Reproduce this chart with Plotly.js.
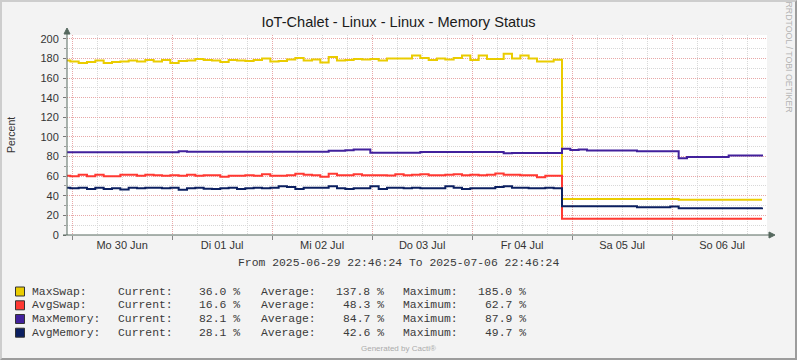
<!DOCTYPE html>
<html><head><meta charset="utf-8">
<script src="https://cdn.plot.ly/plotly-3.0.1.min.js"></script>
<style>
html,body{margin:0;padding:0;background:#F3F3F3}
#wrap{position:relative;width:797px;height:360px}
#chart{width:797px;height:360px}
#frame{position:absolute;left:0;top:0;width:797px;height:360px;box-sizing:border-box;border-top:2px solid #CDCDCD;border-left:2px solid #CDCDCD;border-right:2px solid #9C9C9C;border-bottom:2px solid #9C9C9C;pointer-events:none}
</style>
</head><body><div id="wrap"><div id="chart"></div><div id="frame"></div></div>
<script>
// ---- data ----
const titleText = 'IoT-Chalet - Linux - Linux - Memory Status';
const yTitle = 'Percent';
const rangeStart = '2025-06-29 22:46:24';
const rangeEnd = '2025-07-06 22:46:24';
const sampleStart = '2025-06-29 21:34:24'; // first 2-hour sample
const sampleStepHours = 2;
const dayTickDates = ['2025-06-30 12:00','2025-07-01 12:00','2025-07-02 12:00','2025-07-03 12:00','2025-07-04 12:00','2025-07-05 12:00','2025-07-06 12:00'];
const dayTickLabels = ['Mo 30 Jun','Di 01 Jul','Mi 02 Jul','Do 03 Jul','Fr 04 Jul','Sa 05 Jul','So 06 Jul'];
const seriesNames = ['MaxSwap:','AvgSwap:','MaxMemory:','AvgMemory:'];

const maxSwap = [178,177,175.5,176.5,178,175.5,176.5,177,178,177,
  178.5,177,178.5,175.5,177.5,178,179.5,178.5,178,176.5,
  178.5,178,177.5,178.5,180,177,177.5,179,180.5,178,
  179,176,181.5,178,178.5,179.5,179,179.5,178,180,
  180,180,183,180.5,178.5,180,179,180.5,183,178.5,
  183,179.5,179.5,185,180,183,180,177,177,178.7,
  36.8,36.8,36.8,36.8,36.8,36.8,36.8,36.8,36.8,36.8,36.8,36.8,36.8,36.8,
  36,36,36,36,36,36,36,36,36,36,36];
const avgSwap = [60.5,60,61.5,59.8,61.5,59.8,59.8,61.5,61.5,60.5,
  61.5,61,60.5,61,60.5,61.5,60.5,61,61,59.5,
  60.5,60.5,61,60.5,62,60.5,60.5,61,62.5,61.5,
  61,59.5,62.5,61,61,62,61,61,61,60.8,
  62,61,61.5,62,61,61,61.5,62,61,61.5,
  61,61.5,62.7,61.5,61.5,61,61,59,60.5,60.5,
  16.6,16.6,16.6,16.6,16.6,16.6,16.6,16.6,16.6,16.6,16.6,16.6,16.6,
  16.6,16.6,16.6,16.6,16.6,16.6,16.6,16.6,16.6,16.6,16.6,16.6];
const maxMemory = [84.3,84.3,84.3,84.3,84.3,84.3,84.3,84.3,84.3,84.3,
  84.3,84.3,84.3,84.3,85.3,85,85,85,85,85,
  85,85,85,85,85,85,85,85,85,85,
  85,85,86,86,86.5,87.3,87.3,84,84,84,
  84,84,84,84.6,84.6,84.6,84.6,84.6,84.6,84.6,
  84.6,84.6,84.6,83.5,83.7,83.7,83.7,83.7,83.7,83.7,
  87.9,86.7,87.3,86.3,86.3,86.3,86.3,86.3,86.3,85.3,
  85.3,85.3,85.3,85.3,78.2,79.6,79.6,79.6,79.6,79.6,
  81.2,81.2,81.2,81.2,82.1];
const avgMemory = [48.3,47.6,48.3,46.9,48.3,47.0,47.6,46.5,48.3,47.6,
  48.3,48.3,47.6,48.3,46.2,47.6,48.3,47.3,46.9,47.6,
  48.3,46.9,47.6,48.3,47.6,48.3,49.6,48.9,46.9,48.3,
  48.3,48.3,49.6,47.6,46.9,47.6,47.6,49.6,46.9,48.3,
  48.3,47.6,48.3,47.6,47.6,47.6,49.6,48.3,46.9,47.6,
  47.6,47.6,48.9,49.7,48.3,48.3,47.6,47.6,48.3,47.6,
  29.2,29.2,29.2,29.2,29.2,29.2,29.2,29.2,29.2,
  28.2,28.2,28.2,28.2,29.0,
  27.2,27.2,27.2,27.2,27.2,27.2,27.2,27.2,27.2,27.2,28.1];

const statCurrent = [36.0,16.6,82.1,28.1];
const statAverage = [137.8,48.3,84.7,42.6];
const statMaximum = [185.0,62.7,87.9,49.7];

// ---- styles ----
const seriesColors = ['#EACC00','#FF3932','#42219C','#0C2061'];
const AX = '#56695F';
const L=67, T=35, W=700, H=200;
const px2x = p => (p - L) / W;
const py2y = p => (T + H - p) / H;

function toMs(s){ const [d,t]=s.split(' '); const [Y,M,D]=d.split('-').map(Number); const [h,m,sec]=(t||'0:0:0').split(':').map(Number); return Date.UTC(Y,M-1,D,h||0,m||0,sec||0); }
const t0 = toMs(sampleStart);
const times = maxSwap.map((_,i) => t0 + i*sampleStepHours*3600000);

const seriesData = [maxSwap, avgSwap, maxMemory, avgMemory];
const traces = seriesData.map((vals,k) => ({
  type:'scatter', mode:'lines', x:times, y:vals, xaxis:'x', yaxis:'y',
  line:{shape:'hv', width:2, color:seriesColors[k]}, hoverinfo:'skip'
}));
traces.push({type:'scatter', mode:'lines', x:[], y:[], xaxis:'x2', yaxis:'y', hoverinfo:'skip'});
traces.push({type:'scatter', mode:'lines', x:[], y:[], xaxis:'x3', yaxis:'y', hoverinfo:'skip'});

const xr = [rangeStart, rangeEnd];
const gridRed = '#E8A8A8', gridGray = '#D8D8D8', dots = '1px,1px';

const shapes = [
  {type:'line', xref:'paper', yref:'paper', x0:px2x(67), x1:px2x(67), y0:py2y(235), y1:py2y(32), line:{color:AX, width:1}},
  {type:'path', xref:'paper', yref:'paper', path:`M ${px2x(64)} ${py2y(34)} L ${px2x(67)} ${py2y(28)} L ${px2x(70)} ${py2y(34)} Z`, fillcolor:AX, line:{color:AX, width:1}},
  {type:'line', xref:'paper', yref:'paper', x0:px2x(63), x1:px2x(771), y0:py2y(235), y1:py2y(235), line:{color:AX, width:1}},
  {type:'path', xref:'paper', yref:'paper', path:`M ${px2x(769)} ${py2y(232)} L ${px2x(775)} ${py2y(235)} L ${px2x(769)} ${py2y(238)} Z`, fillcolor:AX, line:{color:AX, width:1}}
];

const rowY = [291.5, 305.3, 319.0, 332.7];
const mono = {family:'Liberation Mono, Courier New, monospace', size:11.4, color:'#3A3A3A'};
const annotations = [];
rowY.forEach((ry,k) => {
  shapes.push({type:'rect', xref:'paper', yref:'paper', x0:px2x(15.5), x1:px2x(24.5), y0:py2y(ry+4.5), y1:py2y(ry-4.5), fillcolor:seriesColors[k], line:{color:'#333', width:1}});
  const A = (text, px, anchor) => annotations.push({xref:'paper', yref:'paper', x:px2x(px), y:py2y(ry), text, showarrow:false, xanchor:anchor, yanchor:'middle', font:mono});
  A(seriesNames[k], 30, 'left');
  A('Current:', 116, 'left');
  A(statCurrent[k].toFixed(1) + '\u00A0%', 242, 'right');
  A('Average:', 258.5, 'left');
  A(statAverage[k].toFixed(1) + '\u00A0%', 386, 'right');
  A('Maximum:', 400.5, 'left');
  A(statMaximum[k].toFixed(1) + '\u00A0%', 528, 'right');
});
annotations.push({xref:'paper', yref:'paper', x:px2x(398), y:py2y(263.3), text:'From ' + rangeStart + ' To ' + rangeEnd, showarrow:false, xanchor:'center', yanchor:'middle', font:mono});
annotations.push({xref:'paper', yref:'paper', x:px2x(11), y:py2y(135), text:yTitle, textangle:-90, showarrow:false, xanchor:'center', yanchor:'middle', font:{size:10.5, color:'#333'}});
annotations.push({xref:'paper', yref:'paper', x:px2x(788.5), y:py2y(57), text:'RRDTOOL / TOBI OETIKER', textangle:90, showarrow:false, xanchor:'center', yanchor:'middle', font:{size:8.8, color:'#B4B4B4'}});
annotations.push({xref:'paper', yref:'paper', x:px2x(398.5), y:py2y(349), text:'Generated by Cacti®', showarrow:false, xanchor:'center', yanchor:'middle', font:{size:8, color:'#ABABAB'}});

const layout = {
  width:797, height:360,
  margin:{l:L, r:797-L-W, t:T, b:360-T-H, pad:0},
  paper_bgcolor:'#F3F3F3', plot_bgcolor:'#FFFFFF',
  showlegend:false,
  font:{family:'Liberation Sans, Arial, sans-serif', size:11, color:'#333'},
  title:{text:titleText, xref:'container', x:0.5, xanchor:'center', yref:'container', y:1-22/360, yanchor:'middle', font:{size:14.6, color:'#1A1A1A'}},
  xaxis:{type:'date', range:xr, tickmode:'linear', tick0:'2025-06-30 00:00', dtick:6*3600000, showgrid:true, gridcolor:gridGray, griddash:dots, gridwidth:1, showticklabels:false, ticks:'', showline:false, zeroline:false, fixedrange:true},
  xaxis2:{type:'date', overlaying:'x', anchor:'y', range:xr, tickmode:'linear', tick0:'2025-06-30 00:00', dtick:86400000, showgrid:true, gridcolor:gridRed, griddash:dots, showticklabels:false, ticks:'outside', ticklen:4, tickcolor:'#888', showline:false, zeroline:false},
  xaxis3:{type:'date', overlaying:'x', anchor:'y', range:xr, tickmode:'array', tickvals:dayTickDates, ticktext:dayTickLabels, showgrid:false, ticks:'', ticklabelstandoff:2, tickfont:{size:11, color:'#333'}, showline:false, zeroline:false},
  yaxis:{range:[0,204], tickmode:'linear', tick0:0, dtick:20, showgrid:true, gridcolor:gridRed, griddash:dots, ticks:'outside', ticklen:3, tickcolor:'#777', ticklabelstandoff:2, tickfont:{size:11, color:'#333'},
    minor:{tickmode:'linear', tick0:0, dtick:10, showgrid:true, gridcolor:gridGray, griddash:dots, ticks:'outside', ticklen:2, tickcolor:'#999'},
    zeroline:false, showline:false, fixedrange:true},
  shapes, annotations
};
Plotly.newPlot('chart', traces, layout, {staticPlot:true, displayModeBar:false});
</script>
</body></html>
